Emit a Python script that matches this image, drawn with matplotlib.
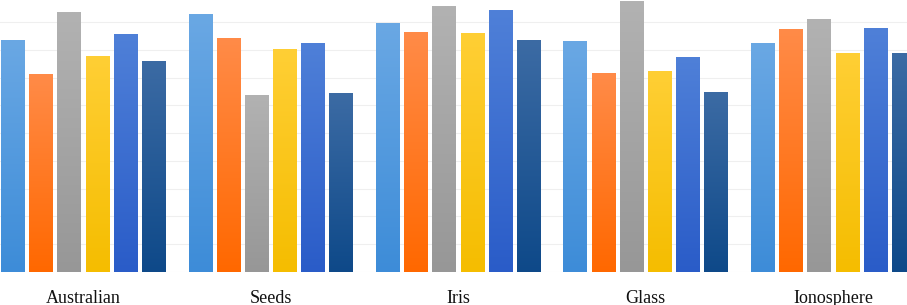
import numpy as np
import matplotlib
matplotlib.use("Agg")
import matplotlib.pyplot as plt
from matplotlib.colors import LinearSegmentedColormap

# data (axis 0-100)
datasets = ["Australian", "Seeds", "Iris", "Glass", "Ionosphere"]
s1 = [83.6, 93.0, 89.9, 83.3, 82.6]
s2 = [71.4, 84.4, 86.5, 71.6, 87.5]
s3 = [93.6, 63.9, 95.9, 97.8, 91.2]
s4 = [78.0, 80.3, 86.1, 72.6, 79.1]
s5 = [85.7, 82.7, 94.4, 77.6, 88.0]
s6 = [76.2, 64.4, 83.6, 64.9, 79.1]
series = [s1, s2, s3, s4, s5, s6]

# (top, bottom) gradient colours per series
grads = [
    ("#6aa8e4", "#3d8cd8"),
    ("#ff8b48", "#ff6800"),
    ("#b2b2b2", "#979797"),
    ("#ffcf35", "#f5bd00"),
    ("#4f80d8", "#2a5cc8"),
    ("#3c6ba4", "#0e4989"),
]

fig = plt.figure(figsize=(9.07, 3.05), dpi=100)
ax = fig.add_axes([0, 0.1092, 1, 0.9082])

x = np.arange(len(datasets))
pitch = 0.1504
width = 0.1227

grad = np.linspace(1, 0, 256).reshape(-1, 1)
for k, vals in enumerate(series):
    cmap = LinearSegmentedColormap.from_list("g%d" % k, [grads[k][1], grads[k][0]])
    bars = ax.bar(x + (k - 2.5) * pitch, vals, width, color="none", edgecolor="none", zorder=2)
    for b in bars:
        x0, y0 = b.get_x(), b.get_y()
        im = ax.imshow(grad, cmap=cmap, aspect="auto", zorder=2,
                       extent=[x0, x0 + b.get_width(), y0, y0 + b.get_height()],
                       vmin=0, vmax=1)
        im.set_clip_path(b)

ax.set_xlim(-0.4427, 4.3947)
ax.set_ylim(0, 100)
ax.set_yticks(np.arange(0, 101, 10))
ax.yaxis.grid(True, color="#efefef", lw=0.8, zorder=0)
ax.set_axisbelow(True)
for sp in ax.spines.values():
    sp.set_visible(False)
ax.tick_params(axis="y", left=False, labelleft=False)
ax.tick_params(axis="x", length=0, pad=13)
ax.set_xticks(x)
ax.set_xticklabels(datasets, fontfamily="Liberation Serif", fontsize=13, color="#111111")

fig.savefig("out.png", dpi=100)
